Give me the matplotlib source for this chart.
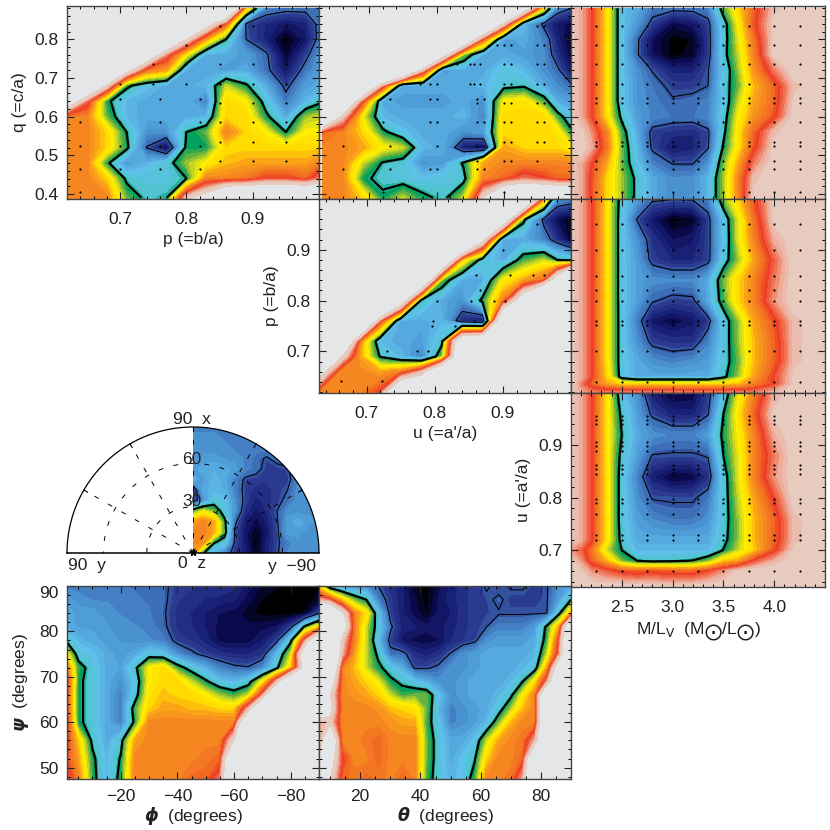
import numpy as np
import matplotlib
matplotlib.use('Agg')
import matplotlib.pyplot as plt
from matplotlib.colors import LinearSegmentedColormap
from matplotlib.patches import Wedge
from matplotlib.ticker import MultipleLocator

plt.rcParams['font.family'] = ['Liberation Sans', 'DejaVu Sans']
plt.rcParams['mathtext.fontset'] = 'dejavusans'

# N marks the places with no models, they stay grey
N = 30

colors = ['#000000', '#0a0a50', '#1a2278', '#2a3a8f', '#3c6fb5', '#4a90d0', '#55aae0',
          '#5fc0ea', '#50c4d0', '#00a060', '#60b040', '#c8d820', '#ffee00', '#ffdc00',
          '#fba518', '#f68820', '#f26a22', '#ee3d26', '#f07050', '#eeaa98', '#e8cbbf']

q_rows = [.88, .84, .80, .76, .72, .68, .64, .60, .56, .52, .48, .44, .39]
p_rows = [1.0, .96, .92, .88, .84, .80, .76, .72, .69, .66, .62]
p_rows_ml = [1.0, .96, .92, .88, .84, .80, .76, .72, .68, .65, .635, .62]
u_rows_ml = [1.0, .96, .92, .88, .84, .80, .76, .72, .70, .68, .66, .63]
psi_rows = [90, 87, 84, 81, 78, 75, 72, 69, 66, 63, 60, 56, 52, 47.5]

p_cols = [.62, .65, .68, .71, .74, .77, .80, .83, .86, .89, .92, .95, .98, 1.0]
u_cols = [.63, .66, .69, .72, .75, .78, .81, .84, .87, .90, .93, .96, .98, 1.0]
ml_cols = [2.0, 2.1, 2.2, 2.35, 2.5, 2.65, 2.8, 3.0, 3.2, 3.35, 3.5, 3.65, 3.8, 4.0, 4.2, 4.5]
phi_cols = [-1, -5, -10, -15, -20, -25, -30, -35, -40, -45, -50, -55, -60, -65, -70, -75, -80, -85, -90]
theta_cols = [6.3, 10, 14, 18, 22, 26, 30, 34, 38, 42, 46, 50, 54, 58, 62, 66, 70, 74, 78, 82, 86, 90]

# q against p
qp_vals = [
    [40, 40, 40, 40, 40, 40, 40, 38, 33, 13, 4.5, 4, 4, 4],
    [40, 40, 40, 40, 40, 38.9, 31, 23.7, 16, 3.3, 2.2, 1.5, 2, 4],
    [40, 40, 40, 40, 36, 28.7, 21, 14, 8.5, 3.5, 2, 0, 1.5, 4],
    [40, 40, 40, 33.5, 25.8, 18, 12, 6, 6, 5.5, 3.8, .5, 3, 5],
    [40, 38.7, 31, 23, 15.4, 14, 6, 6, 5.5, 6, 4, 1.5, 4.2, 5.5],
    [36, 28.3, 20.6, 9, 7, 6, 6, 6.5, 11, 8.8, 6, 3, 5.5, 6],
    [25.3, 17.7, 9, 6.5, 6, 6, 6, 4.5, 13, 12, 7.5, 4.2, 6.5, 8],
    [15, 15, 10, 6.5, 6, 6, 6, 6.5, 13, 13, 9, 6, 10.5, 11],
    [15, 15, 13, 8.5, 5, 5, 8.5, 10, 15, 13, 12, 8.5, 12, 12],
    [15, 15, 13, 9, 3.4, .8, 9, 9, 13, 13, 13, 13, 13, 13],
    [15, 15, 9, 5, 6.5, 7.5, 10.5, 12, 13.5, 14, 14, 14, 14, 15],
    [15, 15, 13, 8, 7.5, 7.5, 8.5, 15, 15, 15.5, 17, 17, 16, 18],
    [15, 15, 15, 10, 8, 8.5, 20, 23, N, N, N, N, N, N],
]
# q against u
qu_vals = [
    [40, 40, 40, 40, 40, 40, 40, 40, 40, 39, 25.5, 11.7, 4.5, 3.5],
    [40, 40, 40, 40, 40, 40, 40, 40, 34, 20.5, 6.7, 3, 1.5, 1],
    [40, 40, 40, 40, 40, 40, 40, 29.6, 15.8, 5.5, 6, 4.5, 2, .3],
    [40, 40, 40, 40, 40, 37.8, 24, 10.3, 6, 6, 5.5, 4.8, 2.5, .8],
    [40, 40, 40, 40, 32.8, 18.9, 5.5, 6, 6, 7.5, 6.5, 5, 3.8, 1.5],
    [40, 40, 31.4, 17.6, 6, 6, 6, 6, 6.5, 7.8, 8.2, 6, 4.8, 3.8],
    [40, 30.5, 16.7, 6, 5.5, 5.5, 5.5, 6, 5, 12, 12.5, 9.5, 6, 5.5],
    [33, 20, 11.6, 6.5, 6, 6, 6, 6.5, 4.5, 13, 13, 13, 9.5, 7],
    [16, 15, 13, 9, 7, 6, 6, 5, 5.5, 13, 13, 13, 12.5, 9],
    [15, 15, 14, 12, 11, 6.5, 6, 1.5, 1, 14, 13, 13, 13, 12],
    [15, 15, 11, 8.3, 7.5, 5, 5.5, 8.8, 14, 15, 15, 15, 15, 15],
    [15, 15, 9, 7.8, 7.5, 7, 7.5, 7.8, 15, 16, 18, 17, 16, 16],
    [15, 15, 13, 9, 11, 9, 8, 11, 21, N, N, N, N, N],
]
# q against M/L
qml_vals = [
    [20, 19, 17, 12.5, 7, 6, 4.2, 4, 4, 4.5, 9.5, 13, 16, 19.5, 20.4, 20.4],
    [20, 19, 17, 12.5, 7, 5.2, 3, .9, 1.5, 3, 7.5, 12, 16.5, 20, 20.4, 20.4],
    [20, 19, 17, 12.5, 7, 3.8, 1.2, 0, .3, 2.8, 7.5, 11.5, 15.5, 20, 20.4, 20.4],
    [20, 19, 17, 12.5, 7, 3.7, 1.3, 0, .5, 2.8, 7.8, 11, 15, 20, 20.4, 20.4],
    [20, 19, 17, 12.5, 7, 5, 3.4, 2, 2, 3.4, 7, 10.5, 14.5, 18, 20.4, 20.4],
    [20, 19, 17, 12.5, 7, 5.2, 4.2, 3, 3, 3.5, 7.5, 10, 13.5, 16, 19.5, 20.4],
    [20, 19, 17, 12.5, 7, 5.2, 4.5, 3.7, 4, 4.5, 7, 11, 14, 16, 20, 20.4],
    [20, 19, 17, 12.5, 8, 5.5, 4.6, 4.2, 4.2, 4.6, 7.5, 12, 14.5, 16.5, 20.4, 20.4],
    [20.4, 20, 18.5, 15, 9.5, 6, 3, 2.5, 2.3, 3.2, 8, 12.5, 16, 19.5, 20.4, 20.4],
    [20.4, 20.4, 19, 15.5, 10, 6.5, 3.2, 1.5, 2, 3.4, 8.8, 12.5, 16.5, 20, 20.4, 20.4],
    [19.5, 19, 17, 14, 10, 7, 4.5, 3.4, 3.4, 5, 10, 14, 18, 20.4, 20.4, 20.4],
    [20, 19, 16.5, 13, 10.5, 8, 6, 4.8, 5, 6.5, 10.5, 15, 19.5, 20.4, 20.4, 20.4],
    [20, 19, 16.5, 13, 10.5, 8, 6, 4.8, 5, 6.5, 10.5, 15, 20, 20.4, 20.4, 20.4],
]
# p against u
pu_vals = [
    [40, 40, 40, 40, 40, 40, 40, 40, 40, 40, 33.6, 14.4, 5, 4.5],
    [40, 40, 40, 40, 40, 40, 40, 40, 40, 28, 9.1, 3, 1, .3],
    [40, 40, 40, 40, 40, 40, 40, 40, 22.8, 6, 6, 4.5, 2.5, .5],
    [40, 40, 40, 40, 40, 40, 32, 13, 7.5, 6, 9.5, 11, 8.5, 8],
    [40, 40, 40, 40, 40, 31, 10, 6, 6, 12, 14, 16, 26, 40],
    [40, 40, 40, 40, 25.9, 8, 6, 5, 9, 15, 25, 40, 40, 40],
    [40, 40, 38, 17, 6, 6, 6.5, 2.2, 1.2, N, N, N, N, N],
    [40, 34, 15, 6.5, 6, 5.5, 7.8, 28, N, N, N, N, N, N],
    [38, 22, 14, 8.3, 6.5, 4.5, 10, 29, N, N, N, N, N, N],
    [24, 15, 15, 14, 15, 19, N, N, N, N, N, N, N, N],
    [15, 15, 15, 17, N, N, N, N, N, N, N, N, N, N],
]
# p against M/L
pml_vals = [
    [20, 19, 17, 12.5, 7.5, 5.5, 3.8, 3.6, 3.7, 4.5, 10, 13, 16.5, 20, 20.4, 20.4],
    [20, 19, 17, 12.5, 7.2, 3.4, 1.5, 0, .4, 3, 7, 11.5, 15.5, 20, 20.4, 20.4],
    [20, 19, 17, 12.5, 7.2, 5, 2.6, 1.2, 1.6, 3, 6.8, 11.5, 15, 19, 20.4, 20.4],
    [20, 19, 17, 12.5, 7.2, 5.5, 3, 2.2, 2.2, 3, 7.5, 10.5, 14, 17.5, 20.4, 20.4],
    [20, 19, 17, 12.5, 7.2, 5.5, 5, 4.8, 4.8, 6, 10, 13, 15, 18, 20.4, 20.4],
    [20, 19, 17, 12.5, 7.2, 5.5, 3.7, 3, 3.2, 6, 9.5, 13, 15, 18.5, 20.4, 20.4],
    [20, 19, 17, 12.5, 7.3, 4.3, 1.5, .8, 1.5, 2.8, 7.3, 10.5, 14, 16.5, 19.5, 20.4],
    [20, 19, 17, 12.5, 7.3, 5, 3, 2.5, 2.5, 4.5, 7.3, 10.5, 13.5, 16, 19.5, 20.4],
    [20, 19, 17, 12.5, 7.3, 6, 5, 4.5, 5, 5.5, 7.5, 10, 13.5, 16, 19.5, 20.4],
    [20, 19, 17, 13, 7.5, 6, 6, 6, 6, 6, 8, 10.5, 14, 17, 20, 20.4],
    [20, 18, 16, 14, 13, 13, 13, 13, 13, 13, 13, 13.5, 15, 17, 20, 20.4],
    [20, 19, 18, 18, 18, 18, 18, 18, 18, 18, 18, 18, 18, 19, 20.4, 20.4],
]
# u against M/L
uml_vals = [
    [20, 19, 17, 12.5, 7, 5, 1.8, .6, .8, 2.8, 7, 11.5, 15, 19, 20.4, 20.4],
    [20, 19, 17, 12.5, 8, 5.5, 3.2, 2, 2, 3.4, 8.5, 12.5, 16, 20, 20.4, 20.4],
    [20, 19, 17, 12.5, 8.5, 6, 5, 4.6, 4.6, 5.5, 9, 12, 15, 19, 20.4, 20.4],
    [20, 19, 17, 12.5, 7.8, 5.5, 3.4, 3.3, 3.3, 3.6, 8.5, 11.5, 15, 18, 20.4, 20.4],
    [20, 19, 17, 12.5, 7.5, 4.5, 1.8, .5, .8, 2.5, 7.5, 11.5, 15, 18.5, 20.4, 20.4],
    [20, 19, 17, 12.5, 7.5, 5, 3.4, 3.3, 3.3, 4.2, 7.5, 11, 14, 17, 20.4, 20.4],
    [20, 19, 17, 12.5, 7.5, 5.5, 4.7, 4.2, 4.2, 5, 7.5, 10.5, 13.5, 16, 19.5, 20.4],
    [20, 19, 17, 12.5, 7.8, 6, 6, 6, 6, 6, 7.8, 10.5, 13.5, 16, 19.5, 20.4],
    [18.5, 17.5, 15.5, 11, 8.5, 6.5, 6.5, 6.5, 6.5, 6.5, 8.6, 11, 13, 16.5, 20, 20.4],
    [20, 18.5, 16, 13.5, 10, 8.5, 8, 8.2, 8.6, 10, 13, 14, 17, 19, 20.4, 20.4],
    [20.2, 19.8, 18.5, 17.5, 16.5, 16, 16.5, 16, 16, 17, 18.5, 20, 20.4, 20.4, 20.4, 20.4],
    [20.4, 20.4, 20.4, 20.4, 20.4, 20.4, 20.2, 20, 20.2, 20.4, 20.4, 20.4, 20.4, 20.4, 20.4, 20.4],
]
# psi against phi
psi_phi_vals = [
    [4.5, 4.5, 4.5, 4.5, 4.3, 4.2, 4, 3.8, 3, 2.8, 2.6, 2.7, 2.4, 1.4, .6, .3, 0, 0, .2],
    [5.5, 5, 4.7, 4.7, 4.5, 4.3, 4.2, 3.8, 2.8, 2.5, 2.2, 2, 1.8, 1, .2, 0, 0, 0, .4],
    [6, 5.5, 5.5, 5, 4.7, 4.5, 4.3, 3.7, 2.5, 2.2, 1.7, 1.2, 1, .4, 0, 0, 0, .3, 3.4],
    [6, 5.7, 5.6, 5.3, 5, 4.8, 4.6, 3.8, 2.6, 2.3, 1.7, 1, .8, .9, 1.1, 1.3, 3, 9, 13],
    [8, 6.5, 6, 5.5, 5.2, 5, 4.8, 4.5, 3, 2.7, 2, 1, .9, 1, 1.7, 3, 8, 18, N],
    [12, 7.5, 7, 6, 5.5, 6, 7.5, 7, 5, 3.8, 3, 2.5, 2.2, 2.2, 2.7, 6.5, 11, 26, N],
    [15, 9.5, 7.5, 6, 5.7, 8, 12, 13, 9.5, 7.5, 6, 4.5, 3.8, 3.6, 4.7, 8, 13, 23, N],
    [17, 9, 7.5, 6, 5, 7, 12, 13, 13, 11, 8.8, 7, 6.5, 7.5, 12, 19, N, N, N],
    [16.5, 9, 7.5, 6, 4.5, 7.5, 12.5, 13.5, 13, 13, 12, 10.5, 9.5, 11, 18, N, N, N, N],
    [16.5, 9, 7.5, 6, 4.5, 9.5, 13, 14, 14, 13.5, 13.5, 13, 13, 19, N, N, N, N, N],
    [17, 9, 7.5, 6, 4.5, 9, 15, 15, 15, 15, 15, 15, 15, N, N, N, N, N, N],
    [17, 13, 8, 6, 7.8, 14, 15, 15, 15, 15, 15, 15, 21, N, N, N, N, N, N],
    [16.5, 14, 9, 6.5, 8.7, 15, 15, 15, 15, 15, 15.5, 16, N, N, N, N, N, N, N],
    [18, 15, 9.3, 6.5, 9.2, 15, 15, 15, 15, 16, 16, 18, N, N, N, N, N, N, N],
]
# psi against theta
psi_theta_vals = [
    [12, 7, 5.5, 5, 5, 3.5, 2.5, 1.8, .5, 0, 1, 1.8, 2.5, 3, 3.7, 3, 3.7, 3.7, 3, 3.4, 5, 6],
    [19, 17, 13, 10, 8.5, 4.5, 2.8, 1.8, .8, 0, 1.3, 2, 2.5, 3, 3.2, 3.8, 3, 3, 3, 3.4, 5.5, 8.5],
    [N, N, 22, 15, 12.5, 7, 3, 1.8, 1, .2, 1.4, 1.7, 2.5, 3, 3.2, 3.4, 3.4, 3.4, 3.4, 3.5, 8, 14],
    [N, N, 25, 15, 11, 7.5, 3.8, 2, 1.8, 1.4, 1.5, 2, 2.5, 3, 3.5, 4.5, 4.5, 4.5, 5.5, 9, 14, N],
    [N, N, 20, 15, 11, 6.5, 3, 1.5, 1, 1, 1.2, 2.2, 2.7, 3.2, 5, 5.5, 5.5, 5.5, 6, 9.5, 17, N],
    [N, N, 19, 14, 11, 8, 4, 4, 2.5, 2, 2.5, 3.6, 5, 5.5, 6, 6, 6, 6, 6.5, 11, 18, N],
    [N, N, 15, 13.5, 11, 9, 7.5, 6, 3.3, 3.3, 3.8, 5, 5, 5.5, 6, 6, 6, 6.5, 7.5, 14, 25, N],
    [N, 24, 15, 14, 13, 11.5, 9, 8, 7, 6, 5, 5, 5.5, 6, 6, 6, 6.5, 8.5, 12.5, 18, N, N],
    [N, 21, 15, 14.5, 14, 13, 11, 9.5, 10, 10, 7, 5, 5.5, 6, 6, 6.5, 8, 12, 15, N, N, N],
    [24, 22, 15, 15, 15, 14.5, 13.5, 13, 12.5, 10, 6.5, 4.5, 5, 5.5, 6, 7.5, 10.5, 13.5, 15, N, N, N],
    [19, 20, 15, 15, 15, 15, 14.5, 14, 14, 9.5, 7, 4.5, 5, 5.5, 6.5, 10, 13.5, 15, 15, N, N, N],
    [18, 28, 15, 15, 15.5, 16, 15, 15, 15, 10, 7.5, 6, 6, 7, 11, 14, 15, 15.5, 19, N, N, N],
    [21, 23, 17, 15, 15, 16, 15, 15, 15, 10, 7.5, 6, 7, 8.3, 13, 15, 15, 16, N, N, N, N],
    [N, 21, 16, 15.5, 16, 15.5, 15, 16, 15, 9.5, 7.5, 6.5, 7, 9.5, 15, 15, 15.5, 19, N, N, N, N],
]
# orientation map, degrees along the y and x directions of the half disc
map_cols = [0, 7.5, 15, 22.5, 30, 37.5, 45, 52.5, 60, 67.5, 75, 82.5, 90]
map_rows = [90, 82.5, 75, 67.5, 60, 52.5, 45, 37.5, 30, 22.5, 15, 7.5, 0]
map_vals = [
    [4.5, 4.5, 4.5, 4.5, 4.5, 4.5, 4.5, 4.5, 4.5, 4.5, 4.5, 5, 5],
    [5, 5, 5, 4.6, 4.5, 4.5, 4.5, 4.5, 4.5, 4.5, 5, 5, 5],
    [5, 5, 5, 5, 4.6, 4.5, 4.5, 4.5, 4.5, 4.5, 4.7, 5, 5],
    [5, 5.5, 5.5, 5.2, 5, 4.7, 4, 3.3, 4, 4.3, 4.7, 5, 5],
    [5.5, 6, 6.2, 6, 5.5, 4.5, 4, 3, 3, 3.3, 4.8, 5, 5],
    [6, 5.5, 6.5, 6, 4.5, 3.2, 3, 2.8, 2.8, 3, 4.6, 5, 5],
    [2, 6, 6.5, 6.2, 4.5, 3, 2.5, 2.5, 3, 3.5, 5, 5, 5],
    [2.5, 5, 7.5, 7, 5, 3, 2, 2.5, 3, 4, 5, 5, 5],
    [9.5, 11.5, 10, 7.5, 5, 2.5, 1.5, 2.3, 3.5, 5, 5, 5, 5],
    [14, 15, 14, 9, 3.8, 1.8, 1, 1.8, 3.3, 5.5, 6, 5.5, 5],
    [15, 15, 14, 9.5, 3.2, 1.5, .2, 1.5, 3.2, 5.5, 5.5, 5, 5],
    [15, 14.5, 8.7, 7.5, 3.2, 1.6, 0, 1.8, 3.2, 4.5, 5, 5, 5],
    [14, 8.6, 6, 4.5, 2.8, 1.8, .3, 1.8, 3.3, 4.8, 5, 5, 5],
]

# model points marked in the panels
ml_dots = [2.25, 2.5, 2.75, 3.0, 3.25, 3.5, 3.75, 4.0, 4.25]
q_dots = [.835, .785, .735, .685, .647, .635, .585, .535, .525, .485, .465, .405]
p_dots = [.95, .90, .849, .82, .80, .76, .752, .70, .64]
u_dots = [.957, .949, .94, .907, .899, .89, .863, .855, .846, .798, .79, .77, .73, .72, .66]
qp_dot_p = [.64, .64, .64, .64, .70, .70, .70, .70, .70, .75, .75, .76, .76, .76, .76, .80, .80, .80, .82, .82, .82, .82,
            .85, .85, .85, .85, .85, .85, .85, .90, .90, .90, .90, .90, .90, .90, .95, .95, .95, .95, .95, .95, .95]
qp_dot_q = [.585, .525, .465, .405, .685, .645, .585, .525, .465, .735, .685, .645, .585, .525, .465, .785, .735, .685, .645, .585, .525, .465,
            .835, .735, .685, .635, .585, .535, .485, .835, .735, .685, .635, .585, .535, .485, .835, .735, .685, .635, .585, .535, .485]
qu_dot_u = [.66, .66, .73, .72, .73, .73, .72, .775, .79, .80, .79, .80, .79, .80, .80, .79, .80, .83, .85, .855, .865, .85, .855, .865,
            .86, .87, .86, .86, .87, .86, .87, .86, .86, .87, .89, .90, .91, .90, .91, .90, .91, .90, .91, .90, .91, .90, .91, .90, .91, .90,
            .95, .96, .95, .96, .95, .96, .95, .96, .95, .96, .95, .96, .95, .96, .95]
qu_dot_q = [.525, .465, .645, .585, .525, .465, .405, .685, .685, .685, .645, .645, .585, .585, .525, .465, .465, .735, .735, .735, .735, .685, .685, .685,
            .645, .645, .635, .585, .585, .525, .525, .485, .465, .465, .785, .785, .785, .735, .735, .685, .685, .635, .635, .585, .585, .535, .535, .485, .485, .405,
            .835, .835, .785, .785, .735, .735, .685, .685, .635, .635, .585, .585, .535, .535, .485]
pu_dot_u = [.662, .722, .73, .774, .79, .803, .798, .796, .83, .858, .853, .866, .86, .887, .903, .91, .944, .96, .90, .95]
pu_dot_p = [.641, .641, .70, .70, .70, .80, .76, .75, .75, .76, .80, .82, .85, .80, .80, .85, .85, .85, .90, .95]

levels = np.arange(-0.25, 20.8, 0.5)
cmap = LinearSegmentedColormap.from_list('fit', colors, N=256)
grey = '#e5e6e8'
ink = '#222222'
size = 12.5


def px(x, y):
    return x / 830.0, 1 - y / 830.0


def make_axes(x0, y0, x1, y1):
    return fig.add_axes([x0 / 830.0, 1 - y1 / 830.0, (x1 - x0) / 830.0, (y1 - y0) / 830.0])


def fill_map(ax, xs, ys, vals, thin_lw=0.75, thick_lw=1.6):
    cs = ax.contourf(xs, ys, vals, levels=levels, cmap=cmap, vmin=0, vmax=20)
    cs.set_edgecolor('face')
    cs.set_linewidth(0.3)
    thin = ax.contour(xs, ys, vals, levels=[3.5], colors='black', linewidths=thin_lw)
    thick = ax.contour(xs, ys, vals, levels=[8.5], colors='black', linewidths=thick_lw)
    return cs, thin, thick


def panel(box, xs, ys, vals, xlim, ylim, xticks, yticks, xminor, yminor, dots=None, xlabels=False, ylabels=False):
    ax = make_axes(*box)
    ax.set_facecolor(grey)
    fill_map(ax, xs, ys, vals)
    if dots is not None:
        ax.scatter(dots[0], dots[1], s=2.5, color='black', linewidths=0, zorder=5)
    ax.set_xticks(xticks)
    ax.set_yticks(yticks)
    ax.xaxis.set_minor_locator(MultipleLocator(xminor))
    ax.yaxis.set_minor_locator(MultipleLocator(yminor))
    ax.set_xlim(xlim)
    ax.set_ylim(ylim)
    ax.tick_params(which='major', direction='in', top=True, right=True, length=5, width=0.8, labelsize=size,
                   labelbottom=xlabels, labelleft=ylabels, colors=ink)
    ax.tick_params(axis='x', which='major', pad=9)
    ax.tick_params(axis='y', which='major', pad=6)
    ax.tick_params(which='minor', direction='in', top=True, right=True, length=2.5, width=0.7)
    for s in ax.spines.values():
        s.set_linewidth(1.0)
        s.set_color('#444444')
    return ax


fig = plt.figure(figsize=(8.3, 8.3), dpi=100)

ratio_ticks = [.7, .8, .9]
q_ticks = [.4, .5, .6, .7, .8]
ml_ticks = [2.5, 3.0, 3.5, 4.0]

mesh_ml, mesh_q = np.meshgrid(ml_dots, q_dots)
ax_a = panel((67, 6, 319, 199), p_cols, q_rows, qp_vals, (.62, 1.0), (.387, .886), ratio_ticks, q_ticks, .02, .02,
             dots=(qp_dot_p, qp_dot_q), xlabels=True, ylabels=True)
ax_a.set_xlabel('p (=b/a)', fontsize=size, labelpad=4, color=ink)
ax_a.set_ylabel('q (=c/a)', fontsize=size, labelpad=5, color=ink)
ax_b = panel((319, 6, 571, 199), u_cols, q_rows, qu_vals, (.625, 1.0), (.387, .886), ratio_ticks, q_ticks, .02, .02,
             dots=(qu_dot_u, qu_dot_q))
ax_c = panel((571, 6, 825, 199), ml_cols, q_rows, qml_vals, (2.0, 4.5), (.387, .886), ml_ticks, q_ticks, .1, .02,
             dots=(mesh_ml.ravel(), mesh_q.ravel()))

ax_d = panel((319, 199, 571, 393), u_cols, p_rows, pu_vals, (.63, 1.0), (.618, 1.0), ratio_ticks, ratio_ticks, .02, .02,
             dots=(pu_dot_u, pu_dot_p), xlabels=True, ylabels=True)
ax_d.set_xlabel("u (=a'/a)", fontsize=size, labelpad=4, color=ink)
ax_d.set_ylabel('p (=b/a)', fontsize=size, labelpad=5, color=ink)
mesh_ml, mesh_p = np.meshgrid(ml_dots, p_dots)
ax_e = panel((571, 199, 825, 393), ml_cols, p_rows_ml, pml_vals, (2.0, 4.5), (.618, 1.0), ml_ticks, ratio_ticks, .1, .02,
             dots=(mesh_ml.ravel(), mesh_p.ravel()))
mesh_ml, mesh_u = np.meshgrid(ml_dots, u_dots)
ax_f = panel((571, 393, 825, 587), ml_cols, u_rows_ml, uml_vals, (2.0, 4.5), (.63, 1.0), ml_ticks, ratio_ticks, .1, .02,
             dots=(mesh_ml.ravel(), mesh_u.ravel()), xlabels=True, ylabels=True)
ax_f.set_xlabel(r'M/L$_{\mathrm{V}}$  (M$_{\bigodot}$/L$_{\bigodot}$)', fontsize=size, labelpad=4, color=ink)
ax_f.set_ylabel("u (=a'/a)", fontsize=size, labelpad=5, color=ink)

ax_g = panel((67, 586, 319, 779), phi_cols, psi_rows, psi_phi_vals, (-1, -90), (47.5, 90), [-20, -40, -60, -80], [50, 60, 70, 80, 90], 5, 2,
             xlabels=True, ylabels=True)
ax_g.set_xticklabels(['\u221220', '\u221240', '\u221260', '\u221280'])
ax_g.get_yticklabels()[-1].set_verticalalignment('top')
ax_g.set_xlabel(r'$\boldsymbol{\phi}$  (degrees)', fontsize=size, labelpad=1, color=ink)
ax_g.set_ylabel(r'$\boldsymbol{\psi}$  (degrees)', fontsize=size, labelpad=6, color=ink)
ax_h = panel((319, 586, 571, 779), theta_cols, psi_rows, psi_theta_vals, (6.3, 90), (47.5, 90), [20, 40, 60, 80], [50, 60, 70, 80, 90], 5, 2,
             xlabels=True)
ax_h.set_xlabel(r'$\boldsymbol{\theta}$  (degrees)', fontsize=size, labelpad=1, color=ink)
for ax in (ax_g, ax_h):
    ax.tick_params(axis='x', which='major', pad=7)

# half disc with the orientation map on its right side
ax_m = make_axes(67, 427, 319, 553)
ax_m.set_xlim(-90, 90)
ax_m.set_ylim(0, 90)
ax_m.axis('off')
cs, thin, thick = fill_map(ax_m, map_cols, map_rows, map_vals, thin_lw=0.7, thick_lw=1.4)
disc = Wedge((0, 0), 90, 0, 90, transform=ax_m.transData)
for item in (cs, thin, thick):
    item.set_clip_path(disc)

t = np.radians(np.linspace(0, 180, 181))
ax_m.plot(90 * np.cos(t), 90 * np.sin(t), color='black', lw=0.9, clip_on=False)
ax_m.plot([-90, 90], [0, 0], color='black', lw=1.1, clip_on=False)
for r in (33, 64):
    ax_m.plot(r * np.cos(t), r * np.sin(t), color='black', lw=0.7, dashes=(5, 11))
for a in (30, 60, 90, 120, 150):
    c, s = np.cos(np.radians(a)), np.sin(np.radians(a))
    ax_m.plot([0, 90 * c], [0, 90 * s], color='black', lw=0.7, dashes=(5, 11))
    ax_m.plot([87 * c, 90 * c], [87 * s, 90 * s], color='black', lw=0.8)
ax_m.plot([0], [1], marker='*', color='black', ms=5, clip_on=False, zorder=6)

polar_labels = ['90  x', '60', '30', '90  y', '0  z', 'y  \u221290']
polar_x = [192, 192, 192, 87, 192, 292]
polar_y = [419, 459, 501, 565, 563, 567]
for lab, x, y in zip(polar_labels, polar_x, polar_y):
    fx, fy = px(x, y)
    fig.text(fx, fy, lab, ha='center', va='center', fontsize=size, color=ink)

fig.savefig('out.png', dpi=100)
